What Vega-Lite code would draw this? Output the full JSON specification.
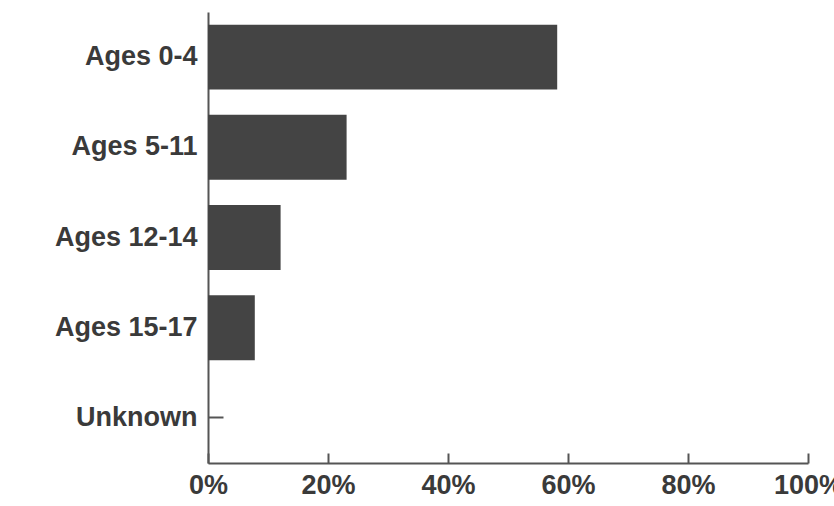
{
  "$schema": "https://vega.github.io/schema/vega-lite/v6.json",
  "autosize": "none",
  "width": 600,
  "height": 451,
  "padding": {"left": 208, "top": 12, "right": 26, "bottom": 43},
  "background": "white",
  "data": {
    "values": [
      {"group": "Ages 0-4", "share": 0.582},
      {"group": "Ages 5-11", "share": 0.231},
      {"group": "Ages 12-14", "share": 0.121},
      {"group": "Ages 15-17", "share": 0.078},
      {"group": "Unknown", "share": 0}
    ]
  },
  "config": {
    "view": {"stroke": null},
    "axis": {
      "grid": false,
      "domainColor": "#555555",
      "domainWidth": 2,
      "tickColor": "#555555",
      "tickWidth": 2,
      "labelFont": "Liberation Sans",
      "labelFontWeight": "bold",
      "labelFontSize": 27,
      "labelColor": "#3a3a3a"
    }
  },
  "mark": {"type": "bar", "color": "#444444"},
  "encoding": {
    "y": {
      "field": "group",
      "type": "nominal",
      "sort": null,
      "scale": {"paddingInner": 0.28, "paddingOuter": 0.14},
      "axis": {"title": null, "tickSize": -15, "labelPadding": 26}
    },
    "x": {
      "field": "share",
      "type": "quantitative",
      "scale": {"domain": [0, 1], "nice": false},
      "axis": {
        "title": null,
        "values": [0, 0.2, 0.4, 0.6, 0.8, 1],
        "format": ".0%",
        "tickSize": -10,
        "labelPadding": 19,
        "labelFlush": false,
        "labelOverlap": false
      }
    }
  }
}
